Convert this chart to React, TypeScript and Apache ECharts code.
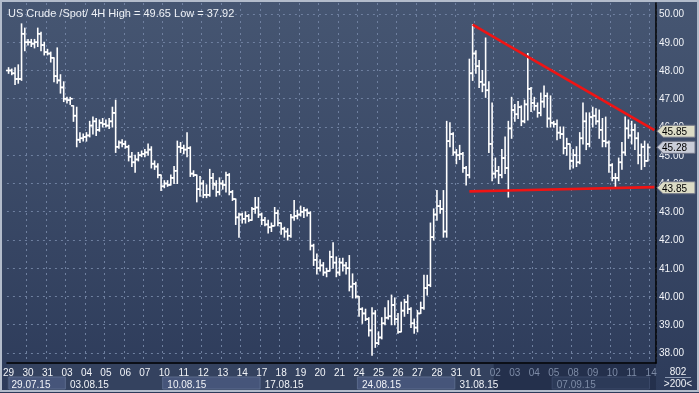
import React, { useEffect, useRef } from "react";
import * as echarts from "echarts";

const titleText = "US Crude /Spot/ 4H High = 49.65 Low = 37.92";
const dayLabels = ["29","30","31","03","04","05","06","07","10","11","12","13","14","17","18","19","20","21","24","25","26","27","28","31","01","02","03","04","05","08","09","10","11","14"];
const weekLabels = ["29.07.15","03.08.15","10.08.15","17.08.15","24.08.15","31.08.15","07.09.15"];
const weekStartDay = [0, 3, 8, 13, 18, 23, 28];
const barsPerDay = 6;
const slotCount = 200;
const fadedFromDay = 25;
const yTicks = [38, 39, 40, 41, 42, 43, 44, 45, 46, 47, 48, 49, 50];
const yMin = 37.646;
const yMax = 50.389;
// [open, high, low, close]
const bars: number[][] = [
  [48.0,48.1,47.9,48.0],[48.0,48.05,47.85,47.9],[47.9,48.1,47.5,47.7],[47.7,48.2,47.55,47.7],[47.7,49.65,47.65,49.3],
  [49.3,49.5,48.7,49.0],[49.0,49.1,48.9,49.0],[49.0,49.1,48.85,48.95],[48.95,49.1,48.8,49.0],[49.0,49.5,48.85,49.3],
  [49.3,49.35,48.7,48.9],[48.9,49.0,48.55,48.65],[48.65,48.75,48.55,48.6],[48.6,48.65,48.3,48.45],[48.45,48.45,47.6,47.8],
  [47.8,48.8,47.55,47.65],[47.65,47.85,47.2,47.4],[47.4,47.6,46.9,47.0],[47.0,47.05,46.85,46.95],[46.95,47.05,46.8,47.0],
  [46.75,46.75,46.2,46.4],[46.4,46.7,45.3,45.55],[45.55,45.8,45.45,45.6],[45.6,45.75,45.5,45.65],[45.65,45.8,45.5,45.7],
  [45.7,46.2,45.65,46.05],[46.05,46.35,45.75,46.2],[46.2,46.3,45.7,45.9],[45.9,46.25,45.85,46.15],[46.15,46.3,46.0,46.1],
  [46.1,46.25,46.0,46.05],[46.05,46.3,45.95,46.2],[46.2,46.7,46.0,46.5],[46.5,46.95,45.1,45.3],[45.3,45.5,45.25,45.45],
  [45.45,45.55,45.3,45.4],[45.4,45.5,45.25,45.3],[45.3,45.35,44.8,44.95],[44.95,45.1,44.6,44.75],[44.75,45.0,44.4,44.85],
  [44.85,45.1,44.8,45.0],[45.0,45.15,44.95,45.05],[45.05,45.2,44.95,45.1],[45.1,45.4,45.0,45.2],[45.2,45.3,44.55,44.7],
  [44.7,44.8,44.5,44.6],[44.6,44.7,44.2,44.3],[44.3,44.3,43.75,43.9],[43.9,44.1,43.85,44.0],[44.0,44.1,43.9,43.95],
  [43.95,44.3,43.95,44.2],[44.2,44.6,44.0,44.45],[44.45,45.5,44.0,45.3],[45.3,45.45,45.1,45.25],[45.25,45.35,45.05,45.2],
  [45.2,45.8,44.95,45.25],[45.25,45.3,44.25,44.35],[44.35,44.45,44.25,44.3],[44.3,44.3,43.35,43.8],[43.8,44.25,43.55,44.0],
  [44.0,44.1,43.5,43.6],[43.6,43.95,43.5,43.6],[43.6,44.5,43.55,44.2],[44.2,44.35,43.8,44.0],[43.95,44.1,43.55,43.7],
  [43.7,44.2,43.6,44.0],[44.0,44.1,43.8,43.95],[43.95,44.4,43.7,44.3],[44.3,44.35,43.6,43.7],[43.7,43.75,43.4,43.45],
  [43.45,43.45,42.55,42.8],[42.8,42.95,42.1,42.9],[42.9,42.95,42.6,42.75],[42.75,43.0,42.6,42.85],[42.85,42.9,42.65,42.7],
  [42.7,43.15,42.7,43.1],[43.1,43.5,42.95,43.15],[43.15,43.5,42.8,42.9],[42.9,42.95,42.55,42.7],[42.7,42.8,42.5,42.55],
  [42.55,42.7,42.25,42.45],[42.45,42.6,42.3,42.5],[42.5,43.15,42.5,42.95],[42.95,43.05,42.5,42.6],[42.6,42.6,42.2,42.4],
  [42.4,42.45,42.1,42.3],[42.3,42.4,42.0,42.15],[42.15,42.9,42.1,42.8],[42.8,43.4,42.7,42.85],[42.85,43.05,42.75,42.9],
  [42.9,43.2,42.85,43.0],[43.0,43.15,42.8,43.05],[43.05,43.1,42.85,42.95],[42.95,43.0,41.65,41.8],[41.8,41.85,41.1,41.3],
  [41.3,41.5,40.8,41.0],[41.0,41.3,40.9,41.1],[41.1,41.2,40.75,40.85],[40.85,41.0,40.7,40.9],[40.9,41.6,40.9,41.4],
  [41.4,41.9,41.0,41.2],[41.2,41.4,40.7,40.85],[40.85,41.35,40.75,41.2],[41.2,41.35,40.9,41.1],[41.1,41.2,40.8,41.0],
  [41.0,41.45,40.2,40.35],[40.35,40.8,39.95,40.45],[40.45,40.5,39.95,40.0],[40.0,40.0,39.3,39.55],[39.55,39.6,39.05,39.4],
  [39.4,39.55,39.15,39.2],[39.2,39.25,38.6,38.8],[38.8,39.6,37.92,39.4],[39.4,39.5,38.2,38.35],[38.35,38.75,38.3,38.55],
  [38.55,39.25,38.5,39.05],[39.05,39.6,39.0,39.25],[39.25,39.85,39.2,39.3],[39.3,40.05,39.0,39.7],[39.7,39.95,39.0,39.2],
  [39.2,39.4,38.7,38.75],[38.75,39.8,38.75,39.5],[39.5,39.9,39.3,39.8],[39.8,40.05,39.4,39.55],[39.55,39.6,38.9,39.05],
  [39.05,39.2,38.7,38.9],[38.9,39.5,38.75,39.4],[39.4,39.8,39.4,39.6],[39.6,40.75,39.55,40.3],[40.3,40.75,40.05,40.4],
  [40.4,42.6,40.35,42.1],[42.1,43.1,42.0,42.9],[42.9,43.75,42.7,43.2],[43.2,43.4,42.95,43.1],[43.1,43.75,42.1,42.3],
  [42.3,46.2,42.1,45.5],[45.5,46.15,45.3,45.75],[45.75,45.8,45.0,45.1],[45.1,45.2,44.7,45.0],[45.0,45.35,44.85,45.05],
  [45.05,45.1,44.4,44.55],[44.55,44.6,43.95,44.3],[44.3,48.4,44.2,47.9],[47.9,49.62,47.65,48.6],[48.6,48.7,47.9,48.15],
  [48.15,48.35,47.4,47.6],[47.6,48.0,47.25,47.5],[47.5,49.15,47.05,47.3],[47.3,47.6,45.1,45.4],[45.4,46.85,44.1,44.35],
  [44.35,44.9,44.2,44.45],[44.45,44.6,44.0,44.3],[44.3,45.2,44.2,44.9],[44.9,45.65,44.35,44.55],[44.55,46.2,43.52,45.95],
  [45.95,47.05,45.6,46.6],[46.6,46.8,46.2,46.45],[46.45,46.9,46.3,46.7],[46.7,46.75,46.05,46.2],[46.2,46.95,46.15,46.8],
  [46.8,48.6,46.25,47.35],[47.35,47.4,46.55,46.85],[46.85,47.05,46.6,46.75],[46.75,46.85,46.35,46.5],[46.5,47.2,46.4,46.9],
  [46.9,47.45,46.7,47.1],[47.1,47.2,46.0,46.3],[46.3,47.1,46.0,46.15],[46.15,46.2,46.0,46.1],[46.1,46.25,45.55,45.8],
  [45.8,46.0,45.6,45.75],[45.75,46.0,45.05,45.25],[45.25,45.6,45.0,45.4],[45.4,45.4,44.5,44.8],[44.8,45.2,44.55,45.0],
  [45.0,45.3,44.6,44.75],[44.75,45.8,44.7,45.6],[45.6,46.85,45.4,46.2],[46.2,46.5,45.2,45.4],[45.4,46.5,45.3,46.35],
  [46.35,46.7,46.0,46.4],[46.4,46.65,46.1,46.2],[46.2,46.6,45.6,45.9],[45.9,46.3,45.3,45.5],[45.5,46.35,45.3,45.45],
  [45.45,45.5,44.4,44.65],[44.65,44.7,44.1,44.2],[44.2,44.35,43.85,44.2],[44.2,44.9,44.1,44.75],[44.75,45.45,44.5,45.1],
  [45.1,46.35,45.0,45.95],[45.95,46.25,45.6,45.7],[45.7,46.2,45.4,45.9],[45.9,46.1,45.2,45.6],[45.6,45.8,44.7,45.0],
  [45.0,45.4,44.5,45.3],[45.3,45.5,44.6,44.8],[44.8,45.4,44.8,45.28]
];
const resistanceLine = [[143, 49.62], [199, 45.89]];
const supportLine = [[142, 43.72], [199, 43.87]];
const priceTags = [
  { value: 45.85, label: "45.85", kind: "line" },
  { value: 45.28, label: "45.28", kind: "last" },
  { value: 43.85, label: "43.85", kind: "line" },
];
const footerTop = "802";
const footerBottom = ">200<";

const FONT = "'Liberation Sans', Arial, sans-serif";

export default function App() {
  const ref = useRef<HTMLDivElement>(null);
  useEffect(() => {
    if (!ref.current) return;
    const chart = echarts.init(ref.current, undefined, { renderer: "svg" });
    const categories = Array.from({ length: slotCount }, (_, i) => String(i));
    const weekStartSlots = weekStartDay.map((d) => d * barsPerDay);
    const fadedSlot = fadedFromDay * barsPerDay;
    const gridLine = { color: "#6f80a0", type: [2, 4] as any, width: 1 };

    const option: any = {
      animation: false,
      textStyle: { fontFamily: FONT },
      grid: { left: 3, right: 43, top: 3, bottom: 30, containLabel: false },
      title: {
        text: titleText,
        left: 3,
        top: 2,
        textStyle: { color: "#eef1f6", fontSize: 11, fontWeight: "normal", fontFamily: FONT },
      },
      xAxis: [
        {
          type: "category",
          data: categories,
          boundaryGap: true,
          axisLine: { show: true, lineStyle: { color: "#000", width: 1.5 } },
          axisTick: { show: false },
          axisLabel: {
            interval: (i: number) => i % barsPerDay === 0,
            formatter: (_v: string, i: number) => {
              const lab = dayLabels[Math.floor(i / barsPerDay)] ?? "";
              return i >= fadedSlot ? `{g|${lab}}` : `{w|${lab}}`;
            },
            margin: 4,
            rich: {
              w: { color: "#f2f4f8", fontSize: 10, fontFamily: FONT },
              g: { color: "#7d8ba6", fontSize: 10, fontFamily: FONT },
            },
          },
          splitLine: {
            show: true,
            interval: (i: number) => i % barsPerDay === 0 && i > 0,
            lineStyle: gridLine,
          },
        },
        {
          type: "category",
          data: categories,
          position: "bottom",
          offset: 12,
          boundaryGap: true,
          axisLine: { show: false },
          axisTick: { show: false },
          splitLine: { show: false },
          axisLabel: {
            interval: (i: number) => weekStartSlots.includes(i),
            align: "left",
            margin: 4,
            formatter: (_v: string, i: number) => {
              const k = weekStartSlots.indexOf(i);
              const lab = weekLabels[k] ?? "";
              return i >= fadedSlot ? `{g|${lab}}` : `{w|${lab}}`;
            },
            rich: {
              w: { color: "#f2f4f8", fontSize: 10, fontFamily: FONT, padding: [0, 0, 0, 3] },
              g: { color: "#7d8ba6", fontSize: 10, fontFamily: FONT, padding: [0, 0, 0, 3] },
            },
          },
        },
      ],
      yAxis: {
        type: "value",
        position: "right",
        min: yMin,
        max: yMax,
        axisLine: { show: true, lineStyle: { color: "#000", width: 1.5 } },
        axisTick: { show: false, customValues: yTicks },
        axisLabel: {
          customValues: yTicks,
          formatter: (v: number) => v.toFixed(2),
          color: "#f2f4f8",
          fontSize: 10,
          margin: 3,
          fontFamily: FONT,
        },
        splitLine: { show: true, lineStyle: gridLine },
      },
      series: [
        {
          type: "custom",
          z: 10,
          data: bars.map((b, i) => [i, b[0], b[1], b[2], b[3]]),
          encode: { x: 0, y: [1, 2, 3, 4] },
          renderItem: (_p: any, api: any) => {
            const x = api.value(0);
            const pH = api.coord([x, api.value(2)]);
            const pL = api.coord([x, api.value(3)]);
            const pO = api.coord([x, api.value(1)]);
            const pC = api.coord([x, api.value(4)]);
            const px = pH[0];
            const st = { stroke: "#ffffff", lineWidth: 1.6 };
            return {
              type: "group",
              children: [
                { type: "line", shape: { x1: px, y1: pH[1] - 0.5, x2: px, y2: pL[1] + 0.5 }, style: st },
                { type: "line", shape: { x1: px - 2.6, y1: pO[1], x2: px, y2: pO[1] }, style: st },
                { type: "line", shape: { x1: px, y1: pC[1], x2: px + 2.6, y2: pC[1] }, style: st },
              ],
            };
          },
          markLine: {
            z: 12,
            silent: true,
            symbol: ["none", "none"],
            label: { show: false },
            lineStyle: { color: "#f01414", width: 2.6, type: "solid" },
            data: [
              [{ coord: [String(resistanceLine[0][0]), resistanceLine[0][1]] }, { coord: [String(resistanceLine[1][0]), resistanceLine[1][1]] }],
              [{ coord: [String(supportLine[0][0]), supportLine[0][1]] }, { coord: [String(supportLine[1][0]), supportLine[1][1]] }],
            ],
          },
        },
      ],
    };
    chart.setOption(option);

    const cx = (i: number) => chart.convertToPixel({ xAxisIndex: 0 }, String(i)) as number;
    const slotW = cx(1) - cx(0);
    const left = (i: number) => cx(i) - slotW / 2;
    const yp = (v: number) => chart.convertToPixel({ yAxisIndex: 0 }, v) as number;
    const plotLeft = left(0);
    const plotRight = left(slotCount - 1) + slotW;
    const plotBottom = yp(yMin);

    const graphics: any[] = [];
    graphics.push({
      type: "rect", z: -20, silent: true,
      shape: { x: 0, y: 0, width: 699, height: 393 },
      style: {
        fill: new echarts.graphic.LinearGradient(0, 0, 0, 1, [
          { offset: 0, color: "#465672" },
          { offset: 1, color: "#2d3b5a" },
        ]),
      },
    });
    graphics.push({
      type: "rect", z: -15, silent: true,
      shape: { x: plotLeft, y: plotBottom + 1, width: plotRight - plotLeft, height: 393 - plotBottom - 4 },
      style: { fill: "#34425f" },
    });
    graphics.push({
      type: "rect", z: -14, silent: true,
      shape: { x: left(fadedSlot), y: plotBottom + 1, width: plotRight - left(fadedSlot), height: 393 - plotBottom - 4 },
      style: { fill: "#24304c" },
    });
    weekStartSlots.forEach((s, k) => {
      if (k % 2 !== 0) return;
      const e = k + 1 < weekStartSlots.length ? weekStartSlots[k + 1] : slotCount - 2;
      const x0 = Math.max(left(s), plotLeft + 2);
      const faded = s >= fadedSlot;
      graphics.push({
        type: "rect", z: -13, silent: true,
        shape: { x: x0, y: plotBottom + 14, width: left(e) - x0, height: 12 },
        style: { fill: faded ? "#2c3a58" : "#46557a", stroke: faded ? "#3a4868" : "#5a6a8c", lineWidth: 1 },
      });
    });
    graphics.push({
      type: "line", z: 10, silent: true,
      shape: { x1: plotRight + 9, y1: plotBottom + 14.5, x2: plotRight + 35, y2: plotBottom + 14.5 },
      style: { stroke: "#8d9ab3", lineWidth: 1 },
    });
    graphics.push({
      type: "text", z: 10, silent: true,
      style: { text: footerTop, x: plotRight + 22, y: plotBottom + 8, fill: "#f2f4f8", font: `10px ${FONT}`, align: "center", verticalAlign: "middle" },
    });
    graphics.push({
      type: "text", z: 10, silent: true,
      style: { text: footerBottom, x: plotRight + 22, y: plotBottom + 20, fill: "#f2f4f8", font: `10px ${FONT}`, align: "center", verticalAlign: "middle" },
    });
    priceTags.forEach((t) => {
      const y = yp(t.value);
      const x0 = plotRight + 1;
      const fill = t.kind === "last" ? "#c9cdd8" : "#dcdcc6";
      graphics.push({
        type: "polygon", z: 20, silent: true,
        shape: { points: [[x0, y], [x0 + 6, y - 6], [x0 + 38, y - 6], [x0 + 38, y + 6], [x0 + 6, y + 6]] },
        style: { fill, stroke: "#6e7386", lineWidth: 1 },
      });
      graphics.push({
        type: "text", z: 21, silent: true,
        style: { text: t.label, x: x0 + 5, y: y + 0.5, fill: "#000", font: `10px ${FONT}`, verticalAlign: "middle" },
      });
    });
    graphics.push({
      type: "rect", z: 30, silent: true,
      shape: { x: 1, y: 1, width: 697, height: 390 },
      style: { fill: "none", stroke: "#b3bccb", lineWidth: 2 },
    });
    chart.setOption({ graphic: graphics });

    return () => chart.dispose();
  }, []);
  return <div ref={ref} style={{ position: "fixed", left: 0, top: 0, width: 699, height: 393 }} />;
}
